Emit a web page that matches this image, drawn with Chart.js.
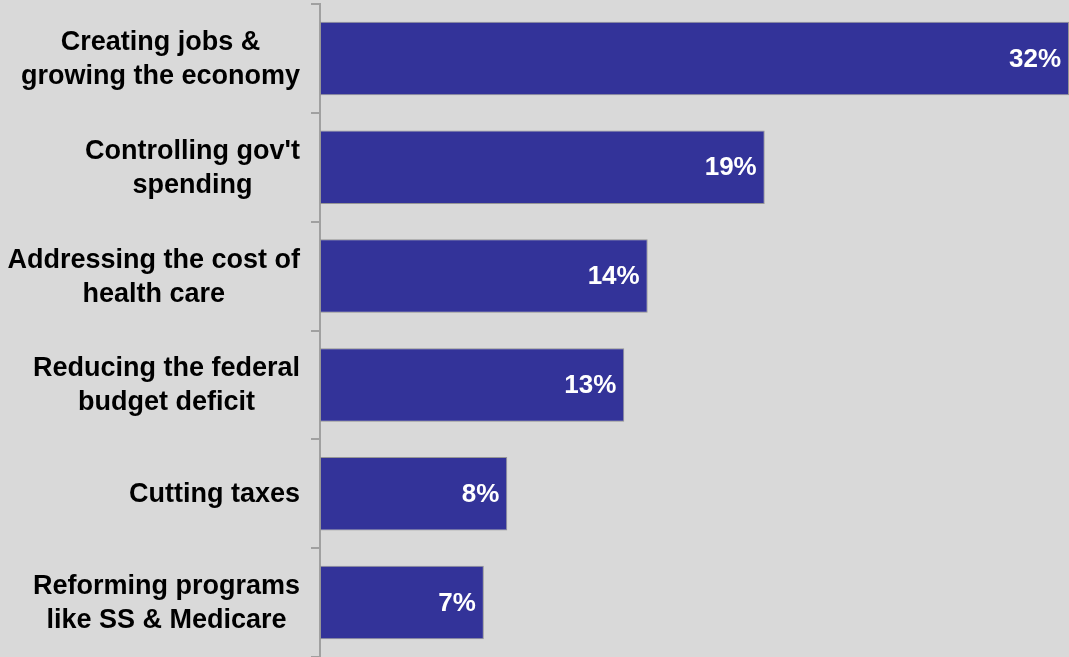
<!DOCTYPE html>
<html lang="en">
<head>
    <meta charset="UTF-8">
    <title>Top priorities</title>
    <script src="https://cdn.jsdelivr.net/npm/chart.js@4.4.0/dist/chart.umd.min.js"></script>
    <style>
        html, body { margin: 0; padding: 0; background: #d9d9d9; }
        .wrap { width: 1069px; height: 657px; position: relative; }
    </style>
</head>
<body>
    <div class="wrap">
        <canvas id="priorityChart"></canvas>
    </div>

    <script>
        // Categories (each one is a list of lines) and the share for each
        var categories = [
            ["Creating jobs &", "growing the economy"],
            ["Controlling gov't", "spending"],
            ["Addressing the cost of", "health care"],
            ["Reducing the federal", "budget deficit"],
            ["Cutting taxes"],
            ["Reforming programs", "like SS & Medicare"]
        ];
        var shares = [32, 19, 14, 13, 8, 7];
        var axisMin = 0;
        var axisMax = 32;

        var labelFont = 'bold 27px "Liberation Sans", Arial, sans-serif';
        var valueFont = 'bold 26px "Liberation Sans", Arial, sans-serif';

        // Category labels: each block right-aligned to the axis, lines centered inside it
        var categoryLabels = {
            id: 'categoryLabels',
            afterDraw: function (chart) {
                var ctx = chart.ctx;
                var yScale = chart.scales.y;
                var right = yScale.right - 20;
                var lineHeight = 34;
                ctx.save();
                ctx.font = labelFont;
                ctx.fillStyle = '#000000';
                ctx.textAlign = 'center';
                ctx.textBaseline = 'middle';
                categories.forEach(function (lines, i) {
                    var widest = 0;
                    lines.forEach(function (l) {
                        widest = Math.max(widest, ctx.measureText(l).width);
                    });
                    var cx = right - widest / 2;
                    var cy = yScale.getPixelForTick(i);
                    var top = cy - (lines.length - 1) * lineHeight / 2;
                    lines.forEach(function (l, k) {
                        ctx.fillText(l, cx, top + k * lineHeight + 1);
                    });
                });
                ctx.restore();
            }
        };

        // Percent labels inside the end of each bar
        var valueLabels = {
            id: 'valueLabels',
            afterDatasetsDraw: function (chart) {
                var ctx = chart.ctx;
                var meta = chart.getDatasetMeta(0);
                ctx.save();
                ctx.font = valueFont;
                ctx.fillStyle = '#ffffff';
                ctx.textAlign = 'right';
                ctx.textBaseline = 'middle';
                meta.data.forEach(function (bar, i) {
                    ctx.fillText(shares[i] + '%', bar.x - 8, bar.y + 1);
                });
                ctx.restore();
            }
        };

        var priorityChart = new Chart(document.getElementById('priorityChart'), {
            type: 'bar',
            data: {
                labels: categories,
                datasets: [{
                    data: shares,
                    backgroundColor: '#333399',
                    borderColor: '#969696',
                    borderWidth: 1,
                    borderSkipped: false,
                    categoryPercentage: 0.675,
                    barPercentage: 1
                }]
            },
            options: {
                indexAxis: 'y',
                responsive: true,
                maintainAspectRatio: false,
                animation: false,
                layout: { padding: { top: 4, right: 0, bottom: 0, left: 0 } },
                plugins: {
                    legend: { display: false },
                    tooltip: { enabled: false }
                },
                scales: {
                    x: {
                        display: false,
                        min: axisMin,
                        max: axisMax
                    },
                    y: {
                        offset: true,
                        grid: {
                            offset: true,
                            drawOnChartArea: false,
                            drawTicks: true,
                            tickLength: 9,
                            color: '#a0a0a0',
                            lineWidth: 2
                        },
                        border: { display: true, color: '#a0a0a0', width: 2 },
                        ticks: { display: false },
                        afterFit: function (scale) { scale.width = 320; }
                    }
                }
            },
            plugins: [categoryLabels, valueLabels]
        });
    </script>
</body>
</html>
